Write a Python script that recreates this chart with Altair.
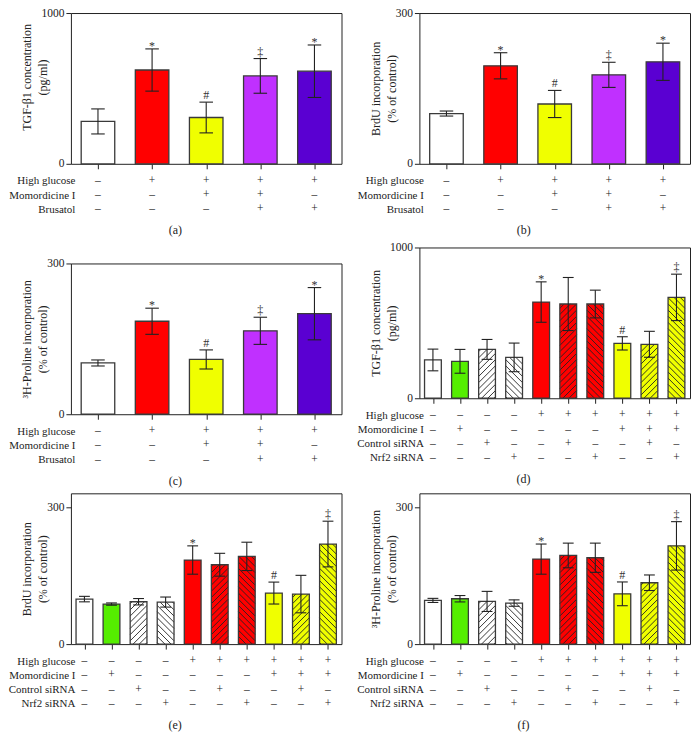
import altair as alt
import pandas as pd

FONT = "Liberation Serif"
INK = "#222222"

# ---------------- data ----------------
groups5 = ["C", "HG", "HG+M", "HG+M+B", "HG+B"]
fills5 = ["#ffffff", "#ff0000", "#f0ff00", "#c030ff", "#5a00d2"]
sigs5 = ["", "*", "#", "\u2021", "*"]
cond5_names = ["High glucose", "Momordicine I", "Brusatol"]
cond5 = [
    ["\u2013", "+", "+", "+", "+"],
    ["\u2013", "\u2013", "+", "+", "\u2013"],
    ["\u2013", "\u2013", "\u2013", "+", "+"],
]

tgf_a_mean = [281, 622, 307, 583, 614]
tgf_a_err = [83, 140, 102, 115, 174]
brdu_b_mean = [100, 195, 119, 177, 203]
brdu_b_err = [5, 26, 27, 25, 37]
pro_c_mean = [102, 185, 109, 166, 200]
pro_c_err = [6, 26, 19, 27, 52]

fills10 = ["#ffffff", "#55ee00", "#ffffff", "#ffffff", "#ff0000",
           "#ff0000", "#ff0000", "#f0ff00", "#f0ff00", "#f0ff00"]
hatch10 = ["", "", "/", "\\", "", "/", "\\", "", "/", "\\"]
sigs10 = ["", "", "", "", "*", "", "", "#", "", "\u2021"]
cond10_names = ["High glucose", "Momordicine I", "Control siRNA", "Nrf2 siRNA"]
cond10 = [
    ["\u2013", "\u2013", "\u2013", "\u2013", "+", "+", "+", "+", "+", "+"],
    ["\u2013", "+", "\u2013", "\u2013", "\u2013", "\u2013", "\u2013", "+", "+", "+"],
    ["\u2013", "\u2013", "+", "\u2013", "\u2013", "+", "\u2013", "\u2013", "+", "\u2013"],
    ["\u2013", "\u2013", "\u2013", "+", "\u2013", "\u2013", "+", "\u2013", "\u2013", "+"],
]

tgf_d_mean = [254, 245, 324, 271, 638, 625, 625, 364, 358, 669]
tgf_d_err = [72, 79, 66, 95, 134, 176, 92, 44, 86, 154]
brdu_e_mean = [98.5, 87.6, 92.7, 92, 184, 173.7, 192, 111.7, 109.5, 219]
brdu_e_err = [6, 2.5, 7, 11, 31, 25, 31, 24, 41, 50]
pro_f_mean = [95.6, 99.3, 93.4, 89.8, 186, 194, 189, 110, 134.3, 215]
pro_f_err = [4.5, 7, 22, 7, 33, 27, 32, 26, 17, 53]

W, H = 271, 151
HW = 0.31          # bar half width (x units)
ROW = 14.2         # table row step


def hatch_df(values, hatches, N, ymax, spacing=6.2):
    pxX = W / N
    pxY = H / ymax
    rows = []
    for i, (v, hs) in enumerate(zip(values, hatches)):
        if hs not in ("/", "\\"):
            continue
        xr = HW * pxX
        xl = -xr
        h = v * pxY
        c = -(xr - xl) + 1.5
        while c < h:
            xa = max(xl, xl - c)
            xb = min(xr, xl + h - c)
            if xb > xa:
                ya = xa - xl + c
                yb = xb - xl + c
                if hs == "\\":
                    xa, xb = -xa, -xb
                rows.append({"hx": i + xa / pxX, "hx2": i + xb / pxX,
                             "hy": ya / pxY, "hy2": yb / pxY})
            c += spacing
    return pd.DataFrame(rows)


def panel(letter, ytitle, ymax, yticks, means, errs, fills, hatches, sigs,
          cond_names, cond_rows, cap_hw, spacer=0, title_y=None):
    N = len(means)
    df = pd.DataFrame({
        "i": list(range(N)), "m": means, "e": errs, "fill": fills, "sig": sigs,
    })
    df["x0"] = df["i"] - HW
    df["x1"] = df["i"] + HW
    df["z"] = 0
    df["top"] = df["m"] + df["e"]
    df["bot"] = df["m"] - df["e"]
    df["cl"] = df["i"] - cap_hw
    df["cr"] = df["i"] + cap_hw

    xs = alt.Scale(domain=[-0.5, N - 0.5], nice=False, zero=False)
    ys = alt.Scale(domain=[0, ymax], nice=False)
    xaxis = alt.Axis(values=list(range(N)), labels=False, ticks=True, tickSize=5,
                     domain=False, grid=False, title=None, tickColor=INK)
    yargs = dict(values=yticks, title=ytitle, grid=False, domain=False, tickSize=5,
                 format="d", labelFontSize=11.5, titleFontSize=12, titlePadding=4,
                 titleLineHeight=16, tickColor=INK, labelColor=INK,
                 titleColor=INK, titleFontWeight="normal", labelFont=FONT,
                 titleFont=FONT, titleX=-37)
    if title_y is not None:
        yargs["titleY"] = title_y
    yaxis = alt.Axis(**yargs)

    def X(f):
        return alt.X(f, type="quantitative", scale=xs, axis=xaxis)

    def Y(f):
        return alt.Y(f, type="quantitative", scale=ys, axis=yaxis)

    base = alt.Chart(df)
    bars = base.mark_rect(strokeWidth=0).encode(
        x=X("x0"), x2="x1", y=Y("m"), y2="z",
        fill=alt.Fill("fill:N", scale=None))
    layers = [bars]
    hd = hatch_df(means, hatches, N, ymax)
    if len(hd):
        hatch = alt.Chart(hd).mark_rule(color=INK, strokeWidth=0.9).encode(
            x=X("hx"), x2="hx2", y=Y("hy"), y2="hy2")
        layers.append(hatch)
    outline = base.mark_rect(fillOpacity=0, stroke="#3a3a3a", strokeWidth=1.3).encode(
        x=X("x0"), x2="x1", y=Y("m"), y2="z")
    err = base.mark_rule(color=INK, strokeWidth=1.1).encode(
        x=X("i"), y=Y("bot"), y2="top")
    cap_t = base.mark_rule(color=INK, strokeWidth=1.1).encode(
        x=X("cl"), x2="cr", y=Y("top"))
    cap_b = base.mark_rule(color=INK, strokeWidth=1.1).encode(
        x=X("cl"), x2="cr", y=Y("bot"))
    star = base.transform_filter(alt.datum.sig == "*").mark_text(
        font=FONT, fontSize=12, color="#333", baseline="alphabetic", dy=1).encode(
        x=X("i"), y=Y("top"), text="sig:N")
    other = base.transform_filter("datum.sig != '*' && datum.sig != ''").mark_text(
        font=FONT, fontSize=12, color="#333", baseline="alphabetic", dy=-3).encode(
        x=X("i"), y=Y("top"), text="sig:N")
    layers += [outline, err, cap_t, cap_b, star, other]
    plot = alt.layer(*layers).properties(width=W, height=H)

    trows = []
    for r, name in enumerate(cond_names):
        for i in range(N):
            trows.append({"row": name, "i": i, "s": cond_rows[r][i]})
    tdf = pd.DataFrame(trows)
    table = alt.Chart(tdf).mark_text(font=FONT, fontSize=11.5, color=INK).encode(
        x=alt.X("i:Q", scale=xs, axis=None),
        y=alt.Y("row:N", sort=cond_names,
                scale=alt.Scale(paddingInner=0, paddingOuter=0),
                axis=alt.Axis(title=None, domain=False, ticks=False, labelPadding=-4,
                              labelFontSize=11, labelColor=INK, labelFont=FONT,
                              labelLimit=200)),
        text="s:N",
    ).properties(width=W, height=ROW * len(cond_names),
                 view=alt.ViewBackground(stroke=None))

    parts = []
    if spacer:
        sp = alt.Chart(pd.DataFrame({"v": [0]})).mark_text(text="", opacity=0).encode(
            x=alt.value(0), y=alt.value(0)).properties(
            width=W, height=spacer, view=alt.ViewBackground(stroke=None))
        parts.append(sp)
    parts += [plot, table]
    return alt.vconcat(*parts, spacing=4).properties(
        title=alt.TitleParams(f"({letter})", orient="bottom", fontSize=12, font=FONT,
                              fontWeight="normal", offset=9, anchor="middle",
                              color=INK)
    ).resolve_scale(x="independent", y="independent")


pa = panel("a", ["TGF-\u03b21 concentration", "(pg/ml)"], 1000, [0, 1000],
           tgf_a_mean, tgf_a_err, fills5, [""] * 5, sigs5, cond5_names, cond5,
           0.125, title_y=64)
pb = panel("b", ["BrdU incorporation", "(% of control)"], 300, [0, 300],
           brdu_b_mean, brdu_b_err, fills5, [""] * 5, sigs5, cond5_names, cond5, 0.125)
pc = panel("c", ["\u00b3H-Proline incorporation", "(% of control)"], 300, [0, 300],
           pro_c_mean, pro_c_err, fills5, [""] * 5, sigs5, cond5_names, cond5, 0.125,
           spacer=1.0)
pd_ = panel("d", ["TGF-\u03b21 concentration", "(pg/ml)"], 1000, [0, 1000],
            tgf_d_mean, tgf_d_err, fills10, hatch10, sigs10, cond10_names, cond10, 0.2)
pe = panel("e", ["BrdU incorporation", "(% of control)"], 330, [0, 300],
           brdu_e_mean, brdu_e_err, fills10, hatch10, sigs10, cond10_names, cond10, 0.2)
pf = panel("f", ["\u00b3H-Proline incorporation", "(% of control)"], 330, [0, 300],
           pro_f_mean, pro_f_err, fills10, hatch10, sigs10, cond10_names, cond10, 0.2)

top_rows = alt.vconcat(
    alt.hconcat(pa, pb, spacing=14),
    alt.hconcat(pc, pd_, spacing=14),
    spacing=3.8,
)
chart = alt.vconcat(
    top_rows,
    alt.hconcat(pe, pf, spacing=14),
    spacing=5,
).properties(
    padding={"top": -2.5, "left": 0, "right": 0, "bottom": 0}, background="white"
).configure_view(
    stroke=INK, strokeWidth=1
).configure_axis(labelFont=FONT, titleFont=FONT).configure_title(font=FONT)

chart.save("out.html", embed_options={"renderer": "svg", "actions": False})
